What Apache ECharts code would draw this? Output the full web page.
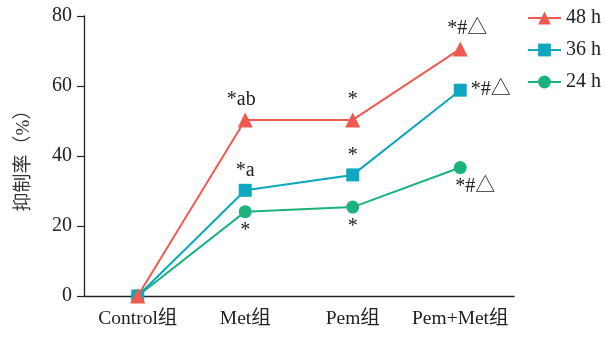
<!DOCTYPE html>
<html><head><meta charset="utf-8">
<script src="https://cdn.jsdelivr.net/npm/echarts@6/dist/echarts.min.js"></script>
<style>html,body{margin:0;padding:0;background:#fff}#c{width:605px;height:340px}</style>
</head><body><div id="c"></div>
<script>
const categories = ['Control组', 'Met组', 'Pem组', 'Pem+Met组'];
const seriesNames = ['48 h', '36 h', '24 h'];
const values48 = [0, 50.3, 50.3, 70.6];
const values36 = [0, 30.2, 34.6, 58.8];
const values24 = [0, 24.1, 25.4, 36.7];
const labels48 = ['', '*ab', '*', '*#△'];
const labels36 = ['', '*a', '*', '*#△'];
const labels24 = ['', '*', '*', '*#△'];
const yTicks = [0, 20, 40, 60, 80];

const colors = ['#ef5a50', '#0ba8c0', '#1cb27c'];
const symbols = ['triangle', 'rect', 'circle'];
const symbolSizes = [15, 13, 13];
const labelPos = [['top','top','top','top'], ['top','top','top','right'], ['bottom','bottom','bottom','bottom']];
const labelShift = [[0,-4,0,7], [0,0,0,0], [0,0,0,15]];
const serif = '"Liberation Serif", "Noto Sans CJK SC", serif';

function mk(name, vals, labs, i) {
  return {
    name: name, type: 'line', data: vals.map((v, k) => ({
      value: v,
      label: { show: labs[k] !== '', formatter: labs[k], position: labelPos[i][k],
        offset: [labelShift[i][k], 0],
        distance: labelPos[i][k] === 'right' ? 4 : 3, fontFamily: serif, fontSize: 20, color: '#222' }
    })),
    symbol: symbols[i], symbolSize: symbolSizes[i],
    itemStyle: { color: colors[i] },
    lineStyle: { color: colors[i], width: 2 },
    z: 10 - i
  };
}

const chart = echarts.init(document.getElementById('c'));
chart.setOption({
  animation: false,
  textStyle: { fontFamily: serif },
  grid: { left: 84, top: 16, right: 91, bottom: 44, containLabel: false },
  legend: {
    orient: 'vertical', left: 522, top: 3,
    itemWidth: 33, itemHeight: 16, itemGap: 12, itemTextGap: 4,
    textStyle: { fontFamily: serif, fontSize: 20, color: '#222' },
    data: seriesNames
  },
  xAxis: {
    type: 'category', data: categories, boundaryGap: true,
    axisLine: { lineStyle: { color: '#222', width: 1.3 } },
    axisTick: { alignWithLabel: true, length: 7, lineStyle: { color: '#222', width: 1.2 } },
    axisLabel: { interval: 0, hideOverlap: false, fontFamily: serif, fontSize: 19.5, color: '#222', margin: 13 }
  },
  yAxis: {
    type: 'value', min: 0, max: 80, interval: 20,
    name: '抑制率（%）', nameLocation: 'middle', nameGap: 50, nameRotate: 90,
    nameTextStyle: { fontFamily: serif, fontSize: 19, color: '#333' },
    axisLine: { show: true, lineStyle: { color: '#222', width: 1.3 } },
    axisTick: { show: true, length: 7, lineStyle: { color: '#222', width: 1.2 } },
    splitLine: { show: false },
    axisLabel: { fontFamily: serif, fontSize: 20, color: '#222', margin: 12,
      formatter: v => yTicks.includes(v) ? String(v) : '' }
  },
  series: [mk(seriesNames[0], values48, labels48, 0), mk(seriesNames[1], values36, labels36, 1), mk(seriesNames[2], values24, labels24, 2)]
});
</script></body></html>
